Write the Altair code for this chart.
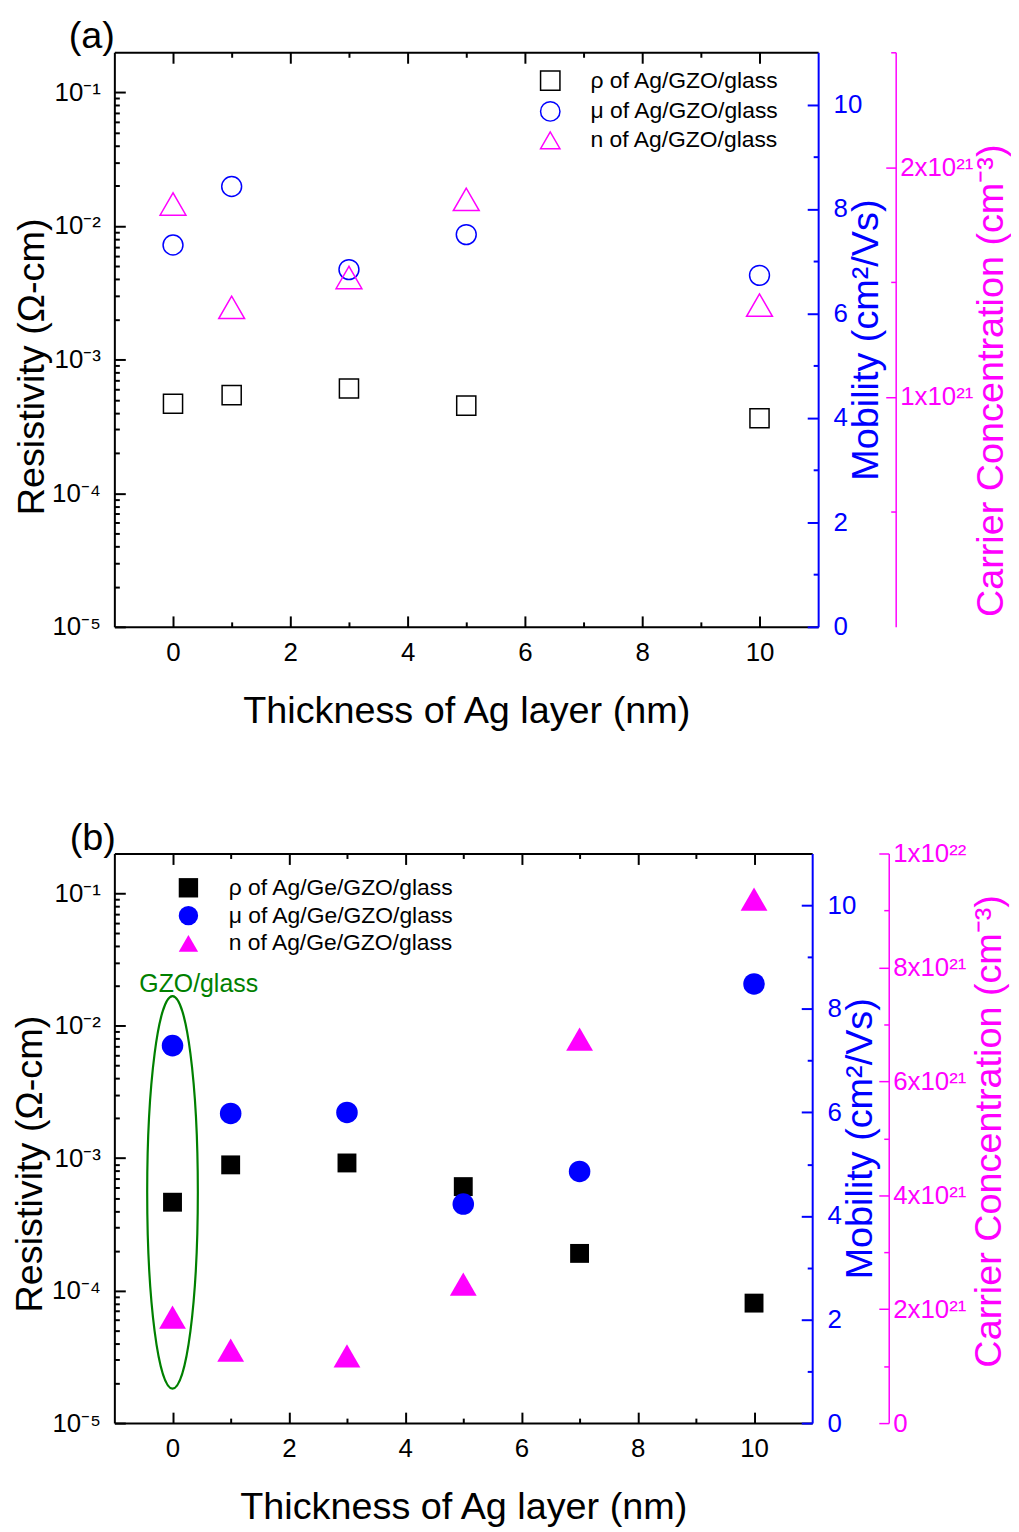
import altair as alt
import pandas as pd

FONT = "Liberation Sans"
BLACK, BLUE, MAGENTA, GREEN = "#000000", "#0000FF", "#FF00FF", "#008000"

# ---------------- data ----------------
thick_a = [0, 1, 3, 5, 10]
rho_a = [4.67e-4, 5.42e-4, 6.08e-4, 4.53e-4, 3.64e-4]      # Ω-cm
mu_a = [7.31, 8.43, 6.84, 7.51, 6.73]                      # cm²/Vs
n_a = [1.84, 1.39, 1.52, 1.86, 1.40]                       # ×10²¹ cm⁻³
labels_a = ["ρ of Ag/GZO/glass", "μ of Ag/GZO/glass", "n of Ag/GZO/glass"]

thick_b = [0, 1, 3, 5, 7, 10]
rho_b = [4.65e-4, 8.9e-4, 9.2e-4, 6.1e-4, 1.91e-4, 8.05e-5]
mu_b = [7.29, 5.98, 6.00, 4.23, 4.86, 8.48]
n_b = [1.86, 1.28, 1.18, 2.44, 6.74, 9.20]
labels_b = ["ρ of Ag/Ge/GZO/glass", "μ of Ag/Ge/GZO/glass", "n of Ag/Ge/GZO/glass"]

gzo_text = ["GZO/glass"]
gzo_x = [0.45]
gzo_y = [0.0208]
ellipse_x = [0.0]
ellipse_y = [5.52e-4]

x_ticks = list(range(0, 11))
log_ticks = [m * 10.0 ** e for e in range(-5, -1) for m in range(1, 10)] + [0.1]
mu_ticks = list(range(0, 11))
n_ticks_a = [0.5, 1.0, 1.5, 2.0, 2.5]
n_ticks_b = list(range(0, 11))

ELLIPSE_PATH = "M0,-1 A0.129,1 0 1,1 0,1 A0.129,1 0 1,1 0,-1 Z"

TITLE_SIZE = 38

# ---------------- helpers ----------------
def cond(test, major, minor):
    return {"condition": {"test": test, "value": major}, "value": minor}

EVEN = "datum.value % 2 == 0"
INT = "datum.value % 1 == 0"
LOG_MAJOR = "abs(log(datum.value)/LN10 - round(log(datum.value)/LN10)) < 0.01"
LOG_LABEL = (LOG_MAJOR + " ? '10⁻' + ['⁰','¹','²','³','⁴','⁵'][-round(log(datum.value)/LN10)] : ''")

N_LABEL_A = "datum.value == 1 ? '1x10²¹' : (datum.value == 2 ? '2x10²¹' : '')"
N_LABEL_B = ("datum.value == 0 ? '0' : (datum.value == 10 ? '1x10²²' : "
             "(datum.value % 2 == 0 ? datum.label + 'x10²¹' : ''))")


def panel(tag, thick, rho, mu, n, labels, filled, g):
    xs = alt.Scale(domain=[-1, 11], nice=False, zero=False)
    x_bottom = alt.X("x:Q", scale=xs, axis=alt.Axis(
        orient="bottom", values=x_ticks,
        labelExpr="datum.value % 2 == 0 ? datum.label : ''",
        tickSize=cond(EVEN, -11, -5), labelPadding=24,
        title="Thickness of Ag layer (nm)", titleY=g["xtitleY"], titleBaseline="middle",
        domainColor=BLACK, tickColor=BLACK, labelColor=BLACK, titleColor=BLACK))
    x_top = alt.X("x:Q", scale=xs, axis=alt.Axis(
        orient="top", values=x_ticks, labels=False,
        tickSize=cond(EVEN, -11, -5), title=None,
        domainColor=BLACK, tickColor=BLACK))
    x_none = alt.X("x:Q", scale=xs, axis=None)

    y_rho = alt.Y("v:Q", scale=alt.Scale(type="log", domain=[1e-5, 10 ** -0.7], nice=False),
                  axis=alt.Axis(orient="left", values=log_ticks, labelExpr=LOG_LABEL,
                                tickSize=cond(LOG_MAJOR, -11, -5), labelPadding=25,
                                title="Resistivity (Ω-cm)", titleAngle=270,
                                titleX=g["ltitleX"], titleY=g["ltitleY"], titleBaseline="middle",
                                domainColor=BLACK, tickColor=BLACK, labelColor=BLACK,
                                titleColor=BLACK))
    y_mu = alt.Y("v:Q", scale=alt.Scale(domain=[0, 11], nice=False, zero=False),
                 axis=alt.Axis(orient="right", values=mu_ticks,
                               labelExpr="datum.value % 2 == 0 ? datum.label : ''",
                               tickSize=cond(EVEN, -11, -5), labelPadding=26,
                               title="Mobility (cm²/Vs)", titleAngle=270,
                               titleX=g["btitleX"], titleBaseline="middle",
                               domainColor=BLUE, tickColor=BLUE, labelColor=BLUE,
                               titleColor=BLUE))
    y_n = alt.Y("v:Q", scale=alt.Scale(domain=g["ndomain"], nice=False, zero=False),
                axis=alt.Axis(orient="right", offset=g["noffset"], values=g["nticks"],
                              labelExpr=g["nlabel"],
                              tickSize=cond(g["nmajor"], -10, -5), labelPadding=14,
                              title="Carrier Concentration (cm⁻³)", titleAngle=270,
                              titleX=g["mtitleX"], titleY=g["mtitleY"], titleBaseline="middle",
                              domainColor=MAGENTA, tickColor=MAGENTA, labelColor=MAGENTA,
                              titleColor=MAGENTA, domainWidth=1.5, tickWidth=1.5))

    legend = alt.Legend(title=None, orient="none", legendX=g["legX"], legendY=g["legY"],
                        labelFont=FONT, labelFontSize=23, labelColor=BLACK, labelLimit=500,
                        symbolSize=380, symbolStrokeWidth=1.5, rowPadding=4,
                        labelOffset=29, padding=0)
    color = alt.Color("series:N", scale=alt.Scale(domain=labels, range=[BLACK, BLUE, MAGENTA]),
                      legend=legend)
    shape = alt.Shape("series:N", scale=alt.Scale(domain=labels,
                                                  range=["square", "circle", "triangle-up"]),
                      legend=legend)

    df_rho = pd.DataFrame({"x": thick, "v": rho, "series": labels[0]})
    df_mu = pd.DataFrame({"x": thick, "v": mu, "series": labels[1]})
    df_n = pd.DataFrame({"x": thick, "v": n, "series": labels[2]})

    sw = 1.5
    rho_layer = alt.Chart(df_rho).mark_point(filled=filled, size=g["sq"], strokeWidth=sw,
                                             opacity=1).encode(
        x=x_bottom, y=y_rho, color=color, shape=shape)
    mu_layer = alt.Chart(df_mu).mark_point(filled=filled, size=g["ci"], strokeWidth=sw,
                                           opacity=1).encode(
        x=x_top, y=y_mu, color=color, shape=shape)
    n_layer = alt.Chart(df_n).mark_point(filled=filled, size=g["tr"], strokeWidth=sw,
                                         opacity=1).encode(
        x=x_none, y=y_n, color=color, shape=shape)

    left_layers = [rho_layer]
    if g.get("ellipse"):
        df_e = pd.DataFrame({"x": ellipse_x, "v": ellipse_y})
        df_t = pd.DataFrame({"x": gzo_x, "v": gzo_y, "t": gzo_text})
        e_layer = alt.Chart(df_e).mark_point(shape=ELLIPSE_PATH, size=156000, filled=False,
                                             color=GREEN, strokeWidth=2.2, opacity=1).encode(
            x=x_bottom, y=y_rho)
        t_layer = alt.Chart(df_t).mark_text(color=GREEN, font=FONT, fontSize=25,
                                            align="center", baseline="middle").encode(
            x=x_bottom, y=y_rho, text="t:N")
        left_layers = [rho_layer, e_layer, t_layer]
    left = alt.layer(*left_layers) if len(left_layers) > 1 else rho_layer

    return (alt.layer(left, mu_layer, n_layer)
            .resolve_scale(y="independent")
            .resolve_axis(x="independent")
            .properties(width=g["w"], height=g["h"],
                        title=alt.TitleParams(tag, anchor="start", frame="group",
                                              fontSize=TITLE_SIZE, font=FONT,
                                              fontWeight="normal", dx=g["tdx"],
                                              offset=-17, color=BLACK)))


geo_a = dict(w=708, h=578, xtitleY=85, ltitleX=-82, ltitleY=316, btitleX=49,
             ndomain=[0, 2.5], noffset=78, nticks=n_ticks_a, nlabel=N_LABEL_A, nmajor=INT,
             mtitleX=96, mtitleY=330, legX=427, legY=17, sq=370, ci=400, tr=676, tdx=-46)
geo_b = dict(w=702, h=573, xtitleY=85, ltitleX=-84, ltitleY=312, btitleX=49,
             ndomain=[0, 10], noffset=77, nticks=n_ticks_b, nlabel=N_LABEL_B, nmajor=EVEN,
             mtitleX=101, mtitleY=279, legX=63, legY=23, sq=361, ci=470, tr=729, tdx=-45,
             ellipse=True)

pa = panel("(a)", thick_a, rho_a, mu_a, n_a, labels_a, False, geo_a)
pb = panel("(b)", thick_b, rho_b, mu_b, n_b, labels_b, True, geo_b)

chart = (alt.vconcat(pa, pb, spacing=88)
         .resolve_scale(color="independent", shape="independent")
         .properties(padding={"left": 3, "top": 5, "right": 0, "bottom": 0})
         .configure_view(stroke="transparent")
         .configure_axis(grid=False, labelFont=FONT, titleFont=FONT, labelFontSize=26,
                         titleFontSize=TITLE_SIZE, titleFontWeight="normal", domainWidth=2,
                         tickWidth=2, labelFlush=False, labelOverlap=False))

chart.save("out.html", embed_options={"renderer": "svg", "actions": False})
